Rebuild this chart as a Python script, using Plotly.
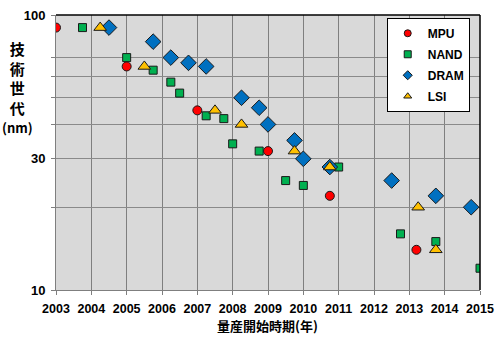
import plotly.graph_objects as go

# Data (year of mass-production start, technology node in nm)
mpu_x = [2003.0, 2005.0, 2007.0, 2009.0, 2010.75, 2013.2]
mpu_y = [90, 65, 45, 32, 22, 14]

nand_x = [2003.75, 2005.0, 2005.75, 2006.25, 2006.5, 2007.25, 2007.75, 2008.0,
          2008.75, 2009.5, 2010.0, 2011.0, 2012.75, 2013.75, 2015.0]
nand_y = [90, 70, 63, 57, 52, 43, 42, 34, 32, 25, 24, 28, 16, 15, 12]

dram_x = [2004.5, 2005.75, 2006.25, 2006.75, 2007.25, 2008.25, 2008.75, 2009.0,
          2009.75, 2010.0, 2010.75, 2012.5, 2013.75, 2014.75]
dram_y = [90, 80, 70, 67, 65, 50, 46, 40, 35, 30, 28, 25, 22, 20]

lsi_x = [2004.25, 2005.5, 2007.5, 2008.25, 2009.75, 2010.75, 2013.25, 2013.75]
lsi_y = [90, 65, 45, 40, 32, 28, 20, 14]

x_ticks = list(range(2003, 2016))
y_tickvals = [10, 20, 30, 40, 50, 60, 70, 100]
y_ticktext = ["10", "", "30", "", "", "", "", "100"]

series = [
    ("MPU", mpu_x, mpu_y, "circle", "#FF0000", 9),
    ("NAND", nand_x, nand_y, "square", "#00B050", 8),
    ("DRAM", dram_x, dram_y, "diamond", "#0070C0", 12),
    ("LSI", lsi_x, lsi_y, "triangle-up", "#FFC000", 11),
]

FONT = "Liberation Sans, Arial, Noto Sans CJK JP, sans-serif"
CJK = "Noto Sans CJK JP, sans-serif"

fig = go.Figure()
for name, xs, ys, sym, col, sz in series:
    fig.add_trace(go.Scatter(
        x=xs, y=ys, mode="markers", name=name, showlegend=False,
        marker=dict(symbol=sym, color=col, size=sz,
                    line=dict(color="#1a1a1a", width=1)),
    ))
for i, (name, xs, ys, sym, col, sz) in enumerate(series):
    fig.add_trace(go.Scatter(
        x=[None], y=[None], mode="markers", name=name, legendgroup=f"g{i}",
        marker=dict(symbol=sym, color=col, size=7,
                    line=dict(color="#1a1a1a", width=1)),
    ))

fig.update_layout(
    width=502, height=340,
    margin=dict(l=56, r=22, t=8, b=50),
    paper_bgcolor="white",
    plot_bgcolor="#D9D9D9",
    font=dict(family=FONT, size=12, color="black"),
    showlegend=True,
    legend=dict(
        x=0.78, y=0.99, xanchor="left", yanchor="top",
        bgcolor="white", bordercolor="black", borderwidth=1,
        font=dict(family=FONT, size=12, weight="bold"),
        tracegroupgap=2, traceorder="grouped",
        itemwidth=30,
    ),
    xaxis=dict(
        range=[2003, 2015], tickvals=x_ticks, ticktext=[str(v) for v in x_ticks],
        showgrid=True, gridcolor="#7F7F7F", gridwidth=1,
        showline=True, linecolor="#7F7F7F", linewidth=1,
        ticks="outside", ticklen=4, tickcolor="#7F7F7F",
        ticklabelstandoff=3,
        tickfont=dict(family=FONT, size=12.5, weight="bold"),
        zeroline=False,
    ),
    yaxis=dict(
        type="log", range=[1, 2],
        tickvals=y_tickvals, ticktext=y_ticktext,
        showgrid=True, gridcolor="#8A8A8A", gridwidth=1,
        showline=True, linecolor="#7F7F7F", linewidth=1,
        ticks="outside", ticklen=4, tickcolor="#7F7F7F",
        ticklabelstandoff=3,
        tickfont=dict(family=FONT, size=13, weight="bold"),
        zeroline=False,
    ),
    shapes=[
        dict(type="line", xref="paper", yref="paper", x0=0, x1=1, y0=1, y1=1,
             line=dict(color="black", width=1.5)),
        dict(type="line", xref="paper", yref="paper", x0=1, x1=1, y0=0, y1=1,
             line=dict(color="black", width=1.5)),
    ],
    annotations=[
        dict(text="技<br>術<br>世<br>代<br><span style='font-size:13px'>(nm)</span>",
             xref="paper", yref="paper", x=-0.091, y=0.735,
             xanchor="center", yanchor="middle", showarrow=False,
             font=dict(family=CJK, size=15, weight="bold")),
        dict(text="量産開始時期(年)", xref="paper", yref="paper",
             x=0.499, y=-0.128, xanchor="center", yanchor="middle",
             showarrow=False, font=dict(family=CJK, size=13, weight="bold")),
    ],
)

fig.write_html("out.html")
